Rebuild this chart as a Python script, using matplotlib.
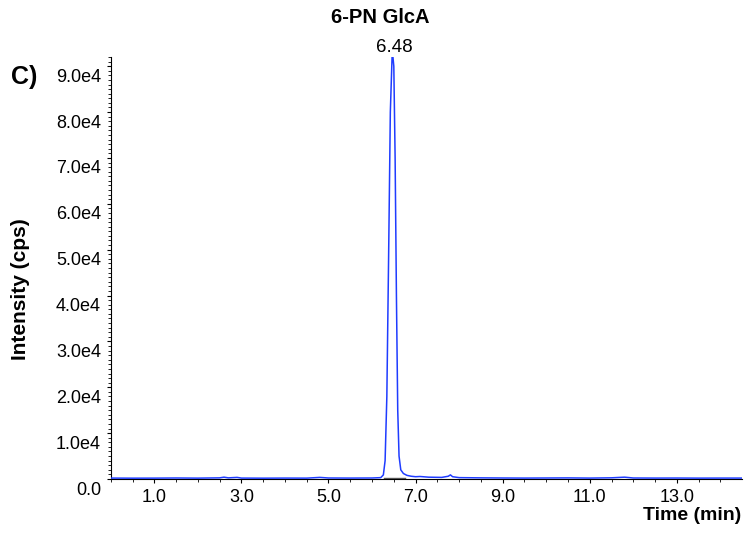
import matplotlib
matplotlib.use("Agg")
import matplotlib.pyplot as plt
from matplotlib.ticker import FixedLocator, MultipleLocator
from matplotlib.transforms import ScaledTranslation

plt.rcParams["font.family"] = ["Liberation Sans", "DejaVu Sans"]

# chromatogram trace (time in min, intensity in cps)
time_min = [0.0, 0.5, 1.0, 1.5, 2.0, 2.5, 2.6, 2.7, 2.9, 3.0, 3.5, 4.0, 4.5,
            4.8, 5.0, 5.5, 6.0, 6.2, 6.26, 6.30, 6.34, 6.38, 6.42, 6.46,
            6.48, 6.50, 6.53, 6.56, 6.59, 6.62, 6.66, 6.72, 6.8, 6.9, 7.0,
            7.1, 7.3, 7.6, 7.75, 7.8, 7.85, 8.0, 8.5, 9.0, 9.5, 10.0, 10.5,
            11.0, 11.5, 11.8, 12.0, 12.5, 13.0, 13.5, 14.0, 14.5]
intensity = [200, 180, 190, 220, 190, 250, 400, 250, 350, 200, 180, 200, 190,
             350, 220, 200, 220, 300, 900, 4000, 18000, 48000, 80000, 92000,
             92000, 90000, 70000, 40000, 15000, 5000, 2000, 1200, 800, 600, 500,
             550, 400, 350, 600, 900, 500, 300, 250, 220, 200, 220, 240,
             200, 260, 400, 220, 200, 210, 190, 200, 200]

peak_rt = 6.48
peak_height = 92000
title = "6-PN GlcA"
panel = "C)"
x_label_ticks = [1.0, 3.0, 5.0, 7.0, 9.0, 11.0, 13.0]
y_label_ticks = [0, 10000, 20000, 30000, 40000, 50000, 60000, 70000, 80000, 90000]

fig = plt.figure(figsize=(7.45, 5.33), dpi=100)
ax = fig.add_axes([0.1487, 0.1013, 0.8469, 0.7917])

ax.plot(time_min, intensity, color="#1f3cff", lw=1.1, zorder=3)
ax.plot([6.28, 6.75], [150, 150], color="0.35", lw=1.0, zorder=2)

ax.set_xlim(0, 14.49)
ax.set_ylim(0, peak_height)

ax.spines["top"].set_visible(False)
ax.spines["right"].set_visible(False)

ax.xaxis.set_major_locator(FixedLocator(x_label_ticks))
ax.xaxis.set_minor_locator(MultipleLocator(0.5))
ax.set_xticklabels([f"{v:.1f}" for v in x_label_ticks])
ax.yaxis.set_major_locator(FixedLocator(y_label_ticks))
ax.yaxis.set_minor_locator(MultipleLocator(1000))
ax.set_yticklabels(["0.0"] + [f"{v / 1e4:.1f}e4" for v in y_label_ticks[1:]])

ax.tick_params(axis="both", which="major", length=3, width=0.8, labelsize=13, pad=4)
ax.tick_params(axis="both", which="minor", length=2, width=0.6)

# y labels sit slightly below their ticks, as in the instrument software
off = ScaledTranslation(0, -9 / 100, fig.dpi_scale_trans)
for lab in ax.get_yticklabels():
    lab.set_transform(lab.get_transform() + off)

ax.set_ylabel("Intensity (cps)", fontsize=15, fontweight="bold")
ax.yaxis.set_label_coords(-0.128, 0.45)
ax.set_xlabel("Time (min)", fontsize=14, fontweight="bold", loc="right", labelpad=1)

ax.annotate(f"{peak_rt:.2f}", (peak_rt, peak_height), textcoords="offset points",
            xytext=(1, 1), ha="center", va="bottom", fontsize=13.5,
            annotation_clip=False)

fig.text(0.51, 0.968, title, ha="center", va="center", fontsize=14.5, fontweight="bold")
fig.text(0.032, 0.855, panel, ha="center", va="center", fontsize=18, fontweight="bold")

fig.savefig("out.png", dpi=100)
